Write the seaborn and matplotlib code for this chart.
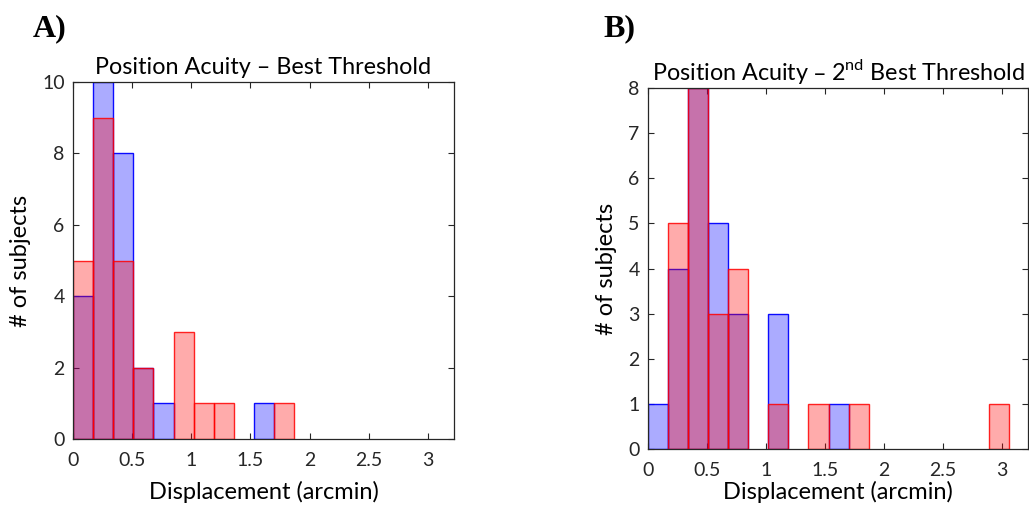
import numpy as np
import pandas as pd
import seaborn as sns
import matplotlib.pyplot as plt

sns.set_theme(style="white")
plt.rcParams['font.family'] = ['Lato', 'DejaVu Sans']

# Histogram bin edges (arcmin)
bin_edges = [0.00, 0.17, 0.34, 0.51, 0.68, 0.85, 1.02, 1.19, 1.36, 1.53,
             1.70, 1.87, 2.04, 2.21, 2.38, 2.55, 2.72, 2.89, 3.06]

# Panel A: Best threshold (counts per bin)
counts_a_blue = [4, 10, 8, 2, 1, 0, 0, 0, 0, 1, 0, 0, 0, 0, 0, 0, 0, 0]
counts_a_red = [5, 9, 5, 2, 0, 3, 1, 1, 0, 0, 1, 0, 0, 0, 0, 0, 0, 0]

# Panel B: 2nd best threshold (counts per bin)
counts_b_blue = [1, 4, 8, 5, 3, 0, 3, 0, 0, 1, 0, 0, 0, 0, 0, 0, 0, 0]
counts_b_red = [0, 5, 8, 3, 4, 0, 1, 0, 1, 0, 1, 0, 0, 0, 0, 0, 0, 1]

x_ticks = [0, 0.5, 1, 1.5, 2, 2.5, 3]
x_ticklabels = ["0", "0.5", "1", "1.5", "2", "2.5", "3"]

title_a = "Position Acuity \u2013 Best Threshold"
title_b = "Position Acuity \u2013 2$^{\\mathregular{nd}}$ Best Threshold"
xlabel = "Displacement (arcmin)"
ylabel = "# of subjects"

centers = [(bin_edges[i] + bin_edges[i + 1]) / 2 for i in range(len(bin_edges) - 1)]

fig = plt.figure(figsize=(10.29, 5.08), dpi=100)
ax_a = fig.add_axes([0.0709, 0.1358, 0.3703, 0.7028])
ax_b = fig.add_axes([0.6297, 0.1161, 0.3693, 0.7106])

blue_face = (0, 0, 1, 0.33)
blue_edge = (0, 0, 1, 0.95)
red_face = (1, 0, 0, 0.33)
red_edge = (1, 0, 0, 0.85)
text_col = "#262626"


def draw_hist(ax, counts, face, edge):
    n0 = len(ax.patches)
    sns.histplot(x=centers, weights=counts, bins=bin_edges, ax=ax,
                 stat="count", element="bars", linewidth=1.0)
    for p in ax.patches[n0:]:
        p.set_facecolor(face)
        p.set_edgecolor(edge)
        if p.get_height() == 0:
            p.set_visible(False)


def style(ax, ymax, yticks, title, xlabelpad):
    ax.set_xlim(0, 3.22)
    ax.set_ylim(0, ymax)
    ax.set_xticks(x_ticks)
    ax.set_xticklabels(x_ticklabels)
    ax.set_yticks(yticks)
    ax.tick_params(direction="in", length=4, width=0.8, top=True, right=True,
                   bottom=True, left=True, colors=text_col, labelsize=14)
    ax.tick_params(axis="x", pad=9)
    ax.tick_params(axis="y", pad=6)
    for s in ax.spines.values():
        s.set_visible(True)
        s.set_color(text_col)
        s.set_linewidth(0.9)
    ax.set_xlabel(xlabel, fontsize=17, color="black", labelpad=xlabelpad)
    ax.set_ylabel(ylabel, fontsize=17, color="black", labelpad=8)
    ax.set_title(title, fontsize=16.8, color="black", pad=6)
    ax.grid(False)


draw_hist(ax_a, counts_a_blue, blue_face, blue_edge)
draw_hist(ax_a, counts_a_red, red_face, red_edge)
style(ax_a, 10, [0, 2, 4, 6, 8, 10], title_a, 9)

draw_hist(ax_b, counts_b_blue, blue_face, blue_edge)
draw_hist(ax_b, counts_b_red, red_face, red_edge)
style(ax_b, 8, [0, 1, 2, 3, 4, 5, 6, 7, 8], title_b, 2)

fig.text(0.032, 0.928, "A)", fontsize=23, fontweight="bold",
         family="Liberation Serif", color="black")
fig.text(0.586, 0.928, "B)", fontsize=23, fontweight="bold",
         family="Liberation Serif", color="black")

fig.savefig("out.png", dpi=100)
